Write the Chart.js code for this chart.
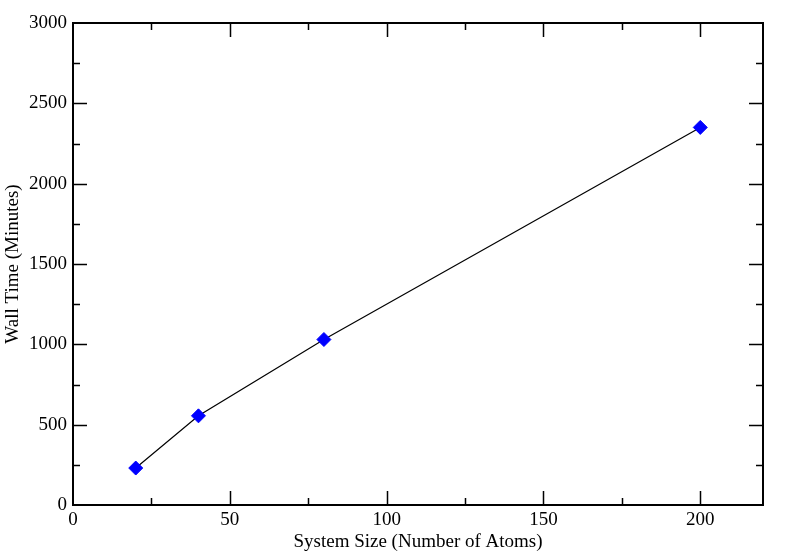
<!DOCTYPE html>
<html>
<head>
<meta charset="utf-8">
<script src="https://cdn.jsdelivr.net/npm/chart.js@4"></script>
<style>
  html, body { margin: 0; padding: 0; background: #fff; }
  #wrap { width: 789px; height: 560px; }
</style>
</head>
<body>
<div id="wrap"><canvas id="wallChart" width="789" height="560"></canvas></div>
<script>
// System size vs wall time
const atoms = [20, 40, 80, 200];
const wallMinutes = [230, 555, 1030, 2350];
const xTicks = [0, 50, 100, 150, 200];
const yTicks = [0, 500, 1000, 1500, 2000, 2500, 3000];

const serif = "'Liberation Serif', 'Times New Roman', serif";

// inward major/minor ticks on all four sides plus the frame
const frameTicks = {
  id: "frameTicks",
  afterDraw(chart) {
    const { ctx, chartArea: a, scales } = chart;
    const x = scales.x, y = scales.y;
    ctx.save();
    ctx.strokeStyle = "#000";
    ctx.lineWidth = 1.5;
    ctx.beginPath();
    for (let v = 0; v <= 220; v += 25) {
      const px = Math.round(x.getPixelForValue(v)) + 0.5;
      const len = v % 50 === 0 ? 14 : 7;
      if (px <= a.left + 1 || px >= a.right - 1) continue;
      ctx.moveTo(px, a.bottom); ctx.lineTo(px, a.bottom - len);
      ctx.moveTo(px, a.top); ctx.lineTo(px, a.top + len);
    }
    for (let v = 0; v <= 3000; v += 250) {
      const py = Math.round(y.getPixelForValue(v)) + 0.5;
      const len = v % 500 === 0 ? 14 : 7;
      if (py <= a.top + 1 || py >= a.bottom - 1) continue;
      ctx.moveTo(a.left, py); ctx.lineTo(a.left + len, py);
      ctx.moveTo(a.right, py); ctx.lineTo(a.right - len, py);
    }
    ctx.stroke();
    ctx.lineWidth = 2;
    ctx.strokeRect(a.left, a.top, a.right - a.left, a.bottom - a.top);
    ctx.restore();
  }
};

const ctx1 = document.getElementById("wallChart").getContext("2d");
new Chart(ctx1, {
  type: "scatter",
  data: {
    datasets: [
      {
        label: "Wall Time",
        data: atoms.map((a, i) => ({ x: a, y: wallMinutes[i] })),
        showLine: true,
        borderColor: "#000",
        borderWidth: 1.2,
        pointStyle: "rectRot",
        pointRadius: 7,
        pointBackgroundColor: "#0000ff",
        pointBorderColor: "#0000ff",
        pointBorderWidth: 1,
      },
    ],
  },
  options: {
    responsive: false,
    animation: false,
    layout: { padding: { left: 0, right: 26, top: 23, bottom: 0 } },
    plugins: { legend: { display: false }, tooltip: { enabled: false } },
    scales: {
      x: {
        type: "linear",
        min: 0,
        max: 220,
        afterBuildTicks: (s) => { s.ticks = xTicks.map((v) => ({ value: v })); },
        afterFit: (s) => { s.height = 55; },
        grid: { display: false, drawTicks: false },
        border: { display: false },
        ticks: { color: "#000", padding: 4, font: { family: serif, size: 19 } },
        title: {
          display: true,
          text: "System Size (Number of Atoms)",
          color: "#000",
          padding: { top: 0, bottom: 7 },
          font: { family: serif, size: 19 },
        },
      },
      y: {
        type: "linear",
        min: 0,
        max: 3000,
        afterBuildTicks: (s) => { s.ticks = yTicks.map((v) => ({ value: v })); },
        afterFit: (s) => { s.width = 73; },
        grid: { display: false, drawTicks: false },
        border: { display: false },
        ticks: {
          color: "#000",
          padding: 6,
          font: { family: serif, size: 19 },
          callback: (v) => String(v),
        },
        title: {
          display: true,
          text: "Wall Time (Minutes)",
          color: "#000",
          padding: { top: 2, bottom: 0 },
          font: { family: serif, size: 19 },
        },
      },
    },
  },
  plugins: [frameTicks],
});
</script>
</body>
</html>
